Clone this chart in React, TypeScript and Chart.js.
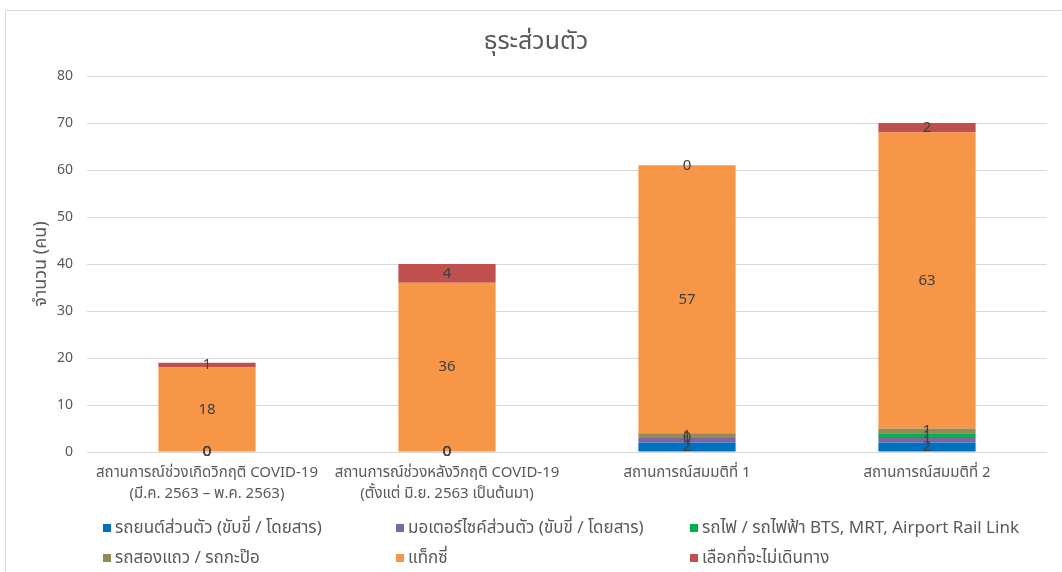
import React, { useEffect, useRef } from "react";
import { Chart, registerables } from "chart.js";

Chart.register(...registerables);

// Categories (two-line labels where the text wraps)
const categories: (string | string[])[] = [
  ["สถานการณ์ช่วงเกิดวิกฤติ COVID-19", "(มี.ค. 2563 – พ.ค. 2563)"],
  ["สถานการณ์ช่วงหลังวิกฤติ COVID-19", "(ตั้งแต่ มิ.ย. 2563 เป็นต้นมา)"],
  "สถานการณ์สมมติที่ 1",
  "สถานการณ์สมมติที่ 2",
];

const seriesNames = [
  "รถยนต์ส่วนตัว (ขับขี่ / โดยสาร)",
  "มอเตอร์ไซค์ส่วนตัว (ขับขี่ / โดยสาร)",
  "รถไฟ / รถไฟฟ้า BTS, MRT, Airport Rail Link",
  "รถสองแถว / รถกะป๊อ",
  "แท็กซี่",
  "เลือกที่จะไม่เดินทาง",
];

const seriesColors = ["#0070C0", "#8064A2", "#00B050", "#948A54", "#F79646", "#C0504D"];

// People per travel mode in each scenario
const privateCar = [0, 0, 2, 2];
const motorcycle = [0, 0, 1, 1];
const railTransit = [0, 0, 0, 1];
const songthaew = [0, 0, 1, 1];
const taxi = [18, 36, 57, 63];
const noTravel = [1, 4, 0, 2];

const seriesValues = [privateCar, motorcycle, railTransit, songthaew, taxi, noTravel];

const yMax = 80;
const yStep = 10;

const titleText = "ธุระส่วนตัว";
const yAxisTitle = "จำนวน (คน)";

const FONT = "'Noto Sans', 'Noto Sans Thai', 'DejaVu Sans', sans-serif";
const TEXT = "#595959";

// Chart heading, drawn in the band above the plot
const headingPlugin = {
  id: "heading",
  afterDraw(chart: Chart) {
    const { ctx } = chart;
    ctx.save();
    ctx.font = `25px ${FONT}`;
    ctx.fillStyle = TEXT;
    ctx.textAlign = "center";
    ctx.textBaseline = "middle";
    ctx.fillText(titleText, 536, 42);
    ctx.restore();
  },
};

// Writes each segment's value at the centre of its bar piece
const segmentLabels = {
  id: "segmentLabels",
  afterDatasetsDraw(chart: Chart) {
    const { ctx } = chart;
    ctx.save();
    ctx.font = `15px ${FONT}`;
    ctx.fillStyle = "#404040";
    ctx.textAlign = "center";
    ctx.textBaseline = "middle";
    chart.data.datasets.forEach((ds, i) => {
      const meta = chart.getDatasetMeta(i);
      meta.data.forEach((el: any, j: number) => {
        const { x, y, base } = el.getProps(["x", "y", "base"], true);
        const v = ds.data[j] as number;
        ctx.fillText(String(v), x, (y + base) / 2);
      });
    });
    ctx.restore();
  },
};

export default function App() {
  const canvasRef = useRef<HTMLCanvasElement>(null);

  useEffect(() => {
    if (!canvasRef.current) return;
    const chart = new Chart(canvasRef.current, {
      type: "bar",
      data: {
        labels: categories,
        datasets: seriesNames.map((name, i) => ({
          label: name,
          data: seriesValues[i],
          backgroundColor: seriesColors[i],
          borderWidth: 0,
          barPercentage: 0.405,
          categoryPercentage: 1,
        })),
      },
      options: {
        animation: false,
        responsive: false,
        maintainAspectRatio: false,
        layout: { padding: { left: 0, top: 76, right: 15, bottom: 70 } },
        plugins: {
          legend: { display: false },
          tooltip: { enabled: false },
          title: { display: false },
        },
        scales: {
          x: {
            stacked: true,
            grid: { display: false, drawTicks: false },
            border: { display: false },
            ticks: {
              color: TEXT,
              font: { family: FONT, size: 15, lineHeight: 1.35 },
              padding: 11,
              maxRotation: 0,
              autoSkip: false,
            },
            afterFit(scale: any) {
              scale.height = 50;
            },
          },
          y: {
            stacked: true,
            min: 0,
            max: yMax,
            grid: { color: "#d9d9d9", lineWidth: 1, drawTicks: false },
            border: { display: false },
            ticks: {
              stepSize: yStep,
              color: TEXT,
              font: { family: FONT, size: 14 },
              padding: 14,
            },
            title: {
              display: true,
              text: yAxisTitle,
              color: TEXT,
              font: { family: FONT, size: 18, lineHeight: 1.2 },
              padding: { top: 30, bottom: 0 },
            },
            afterFit(scale: any) {
              scale.width = 87;
            },
          },
        },
      },
      plugins: [segmentLabels, headingPlugin],
    });
    return () => chart.destroy();
  }, []);

  const legendCols = [103, 396, 690];
  const legendRows = [528, 558];

  return (
    <div style={{ position: "fixed", left: 0, top: 0, width: 1062, height: 572, background: "#fff", overflow: "hidden" }}>
      <canvas ref={canvasRef} width={1062} height={572} style={{ position: "absolute", left: 0, top: 0 }} />
      <div
        style={{
          position: "absolute",
          left: 5,
          top: 10,
          width: 1070,
          height: 600,
          border: "1px solid #d9d9d9",
          pointerEvents: "none",
        }}
      />
      {seriesNames.map((name, i) => {
        const col = legendCols[i % 3];
        const row = legendRows[Math.floor(i / 3)];
        return (
          <div
            key={name}
            style={{
              position: "absolute",
              left: col,
              top: row - 12,
              height: 24,
              display: "flex",
              alignItems: "center",
              whiteSpace: "nowrap",
              fontFamily: FONT,
              fontSize: 17,
              color: TEXT,
            }}
          >
            <span style={{ display: "inline-block", width: 8, height: 8, background: seriesColors[i], marginRight: 4 }} />
            <span>{name}</span>
          </div>
        );
      })}
    </div>
  );
}
